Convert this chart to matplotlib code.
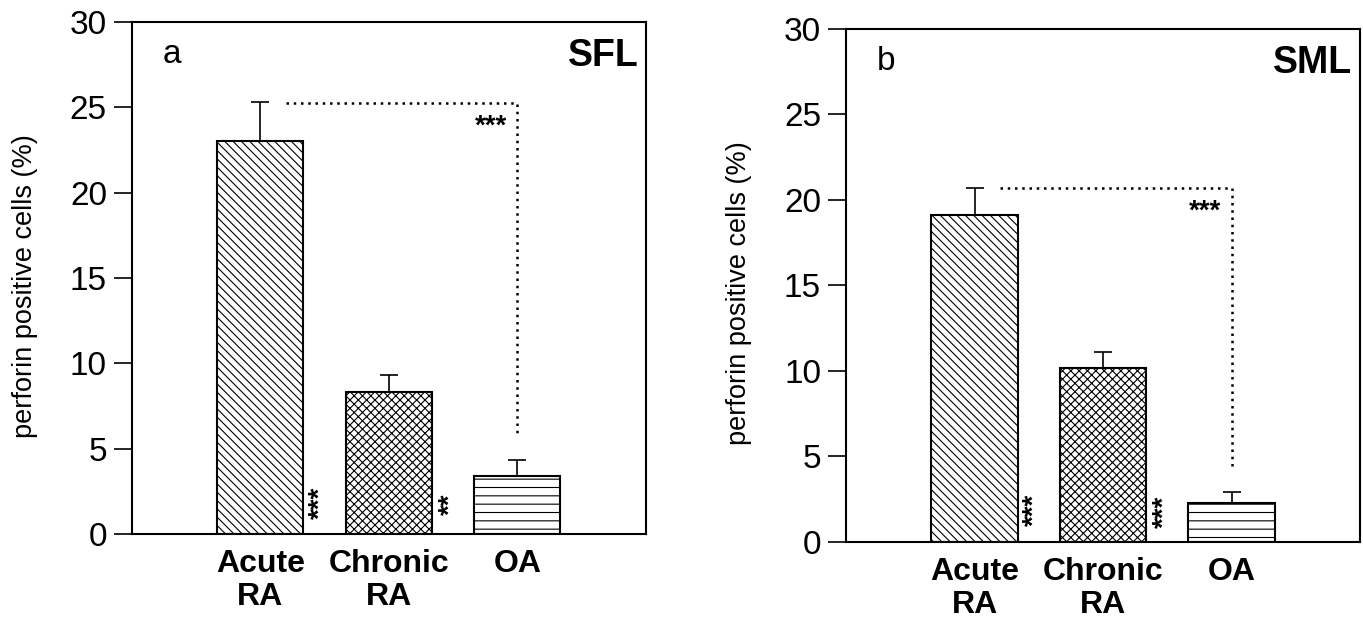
import matplotlib
matplotlib.use("Agg")
import matplotlib.pyplot as plt

plt.rcParams['font.family'] = ['Liberation Sans', 'DejaVu Sans']
plt.rcParams['hatch.linewidth'] = 0.8

groups = ["Acute\nRA", "Chronic\nRA", "OA"]
x = [1, 2, 3]

# panel a: SFL
sfl_mean = [23.0, 8.3, 3.4]
sfl_err = [2.3, 1.0, 0.95]
# panel b: SML
sml_mean = [19.15, 10.2, 2.3]
sml_err = [1.55, 0.92, 0.65]

hatches = ['\\\\\\\\', 'xxxx', '--']


def panel(ax, mean, err, letter, name, top_y, drop_y, stars_mid):
    ax.bar(x, mean, width=0.67, color='white', edgecolor='black',
           linewidth=1.5, hatch=hatches, zorder=2)
    ax.errorbar(x, mean, yerr=[[0, 0, 0], err], fmt='none', ecolor='black',
                elinewidth=1.2, capsize=6.5, capthick=1.2, zorder=3)
    # dotted significance bracket acute vs OA
    ax.plot([1.2, 3, 3], [top_y, top_y, drop_y], color='black', lw=1.8,
            linestyle=(0, (1, 1.9)), zorder=1)
    ax.text(2.92, top_y - 1.4, '***', ha='right', va='center', fontsize=20,
            fontweight='bold')
    ax.text(1.47, 1.85, '***', ha='center', va='center', rotation=90,
            fontsize=20, fontweight='bold')
    ax.text(2.48, 1.75, stars_mid, ha='center', va='center', rotation=90,
            fontsize=20, fontweight='bold')
    ax.text(0.31, 28.1, letter, ha='center', va='center', fontsize=24)
    ax.text(3.94, 28.0, name, ha='right', va='center', fontsize=27, fontweight='bold')

    ax.set_xlim(0, 4)
    ax.set_ylim(0, 30)
    ax.set_yticks([0, 5, 10, 15, 20, 25, 30])
    ax.set_xticks(x)
    ax.set_xticklabels(groups, fontsize=23, fontweight='bold', linespacing=1.12)
    ax.tick_params(axis='x', length=0, pad=11)
    ax.tick_params(axis='y', direction='out', length=13, width=1.2, labelsize=24, pad=5)
    ax.set_ylabel('perforin positive cells (%)', fontsize=19.5)
    ax.yaxis.set_label_coords(-0.182, 0.485)
    for s in ax.spines.values():
        s.set_linewidth(1.5)


fig = plt.figure(figsize=(13.63, 6.17), dpi=100)
ax1 = fig.add_axes([0.0968, 0.1345, 0.3771, 0.8298])
ax2 = fig.add_axes([0.6207, 0.1216, 0.3771, 0.8314])

panel(ax1, sfl_mean, sfl_err, 'a', 'SFL', 25.27, 5.7, '**')
panel(ax2, sml_mean, sml_err, 'b', 'SML', 20.7, 4.2, '***')

fig.savefig('out.png', dpi=100)
